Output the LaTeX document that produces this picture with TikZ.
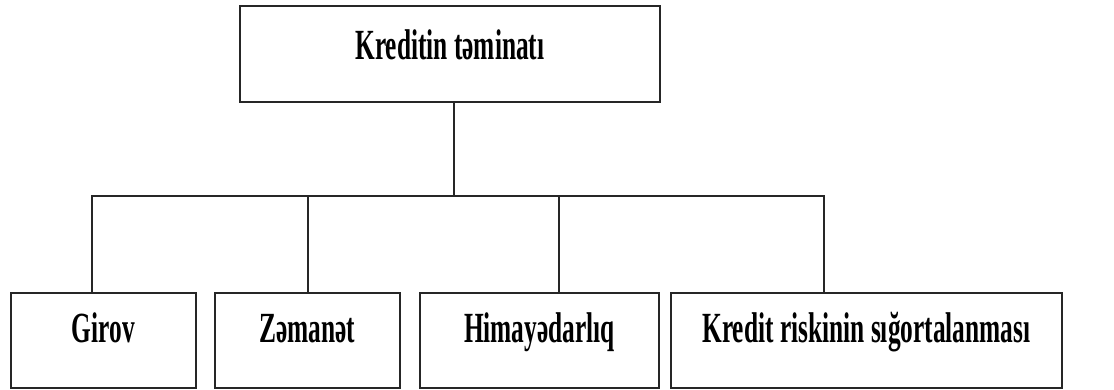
\documentclass[tikz,border=0pt]{standalone}
\usepackage{fontspec}
\setmainfont{Liberation Serif}[FakeStretch=0.59]
\begin{document}
\begin{tikzpicture}[x=1pt,y=-1pt,
  box/.style={draw=black!85,line width=1.8pt,inner sep=0pt,align=center,
    font=\bfseries\fontsize{43}{46}\selectfont},
  topbox/.style={box,minimum width=420pt,text height=54pt,text depth=42pt},
  botbox/.style={box,text height=50pt,text depth=45pt},
  conn/.style={draw=black!85,line width=1.4pt}]
\useasboundingbox (0,0) rectangle (1114,389);
\node[topbox,anchor=north west] (top) at (239,5) {Kreditin təminatı};
\node[botbox,minimum width=185pt,anchor=north west] (b1) at (10,292) {Girov};
\node[botbox,minimum width=185pt,anchor=north west] (b2) at (214,292) {Zəmanət};
\node[botbox,minimum width=239pt,anchor=north west] (b3) at (419,292) {Himayədarlıq};
\node[botbox,minimum width=391pt,anchor=north west] (b4) at (670,292) {Kredit riskinin sığortalanması};
\coordinate (j) at (454,196);
\draw[conn] (top.south -| j) -- (j);
\draw[conn] (b1.north -| 92,0) -- (92,196) -- (824,196) -- (b4.north -| 824,0);
\draw[conn] (308,196) -- (b2.north -| 308,0);
\draw[conn] (559,196) -- (b3.north -| 559,0);
\end{tikzpicture}
\end{document}
